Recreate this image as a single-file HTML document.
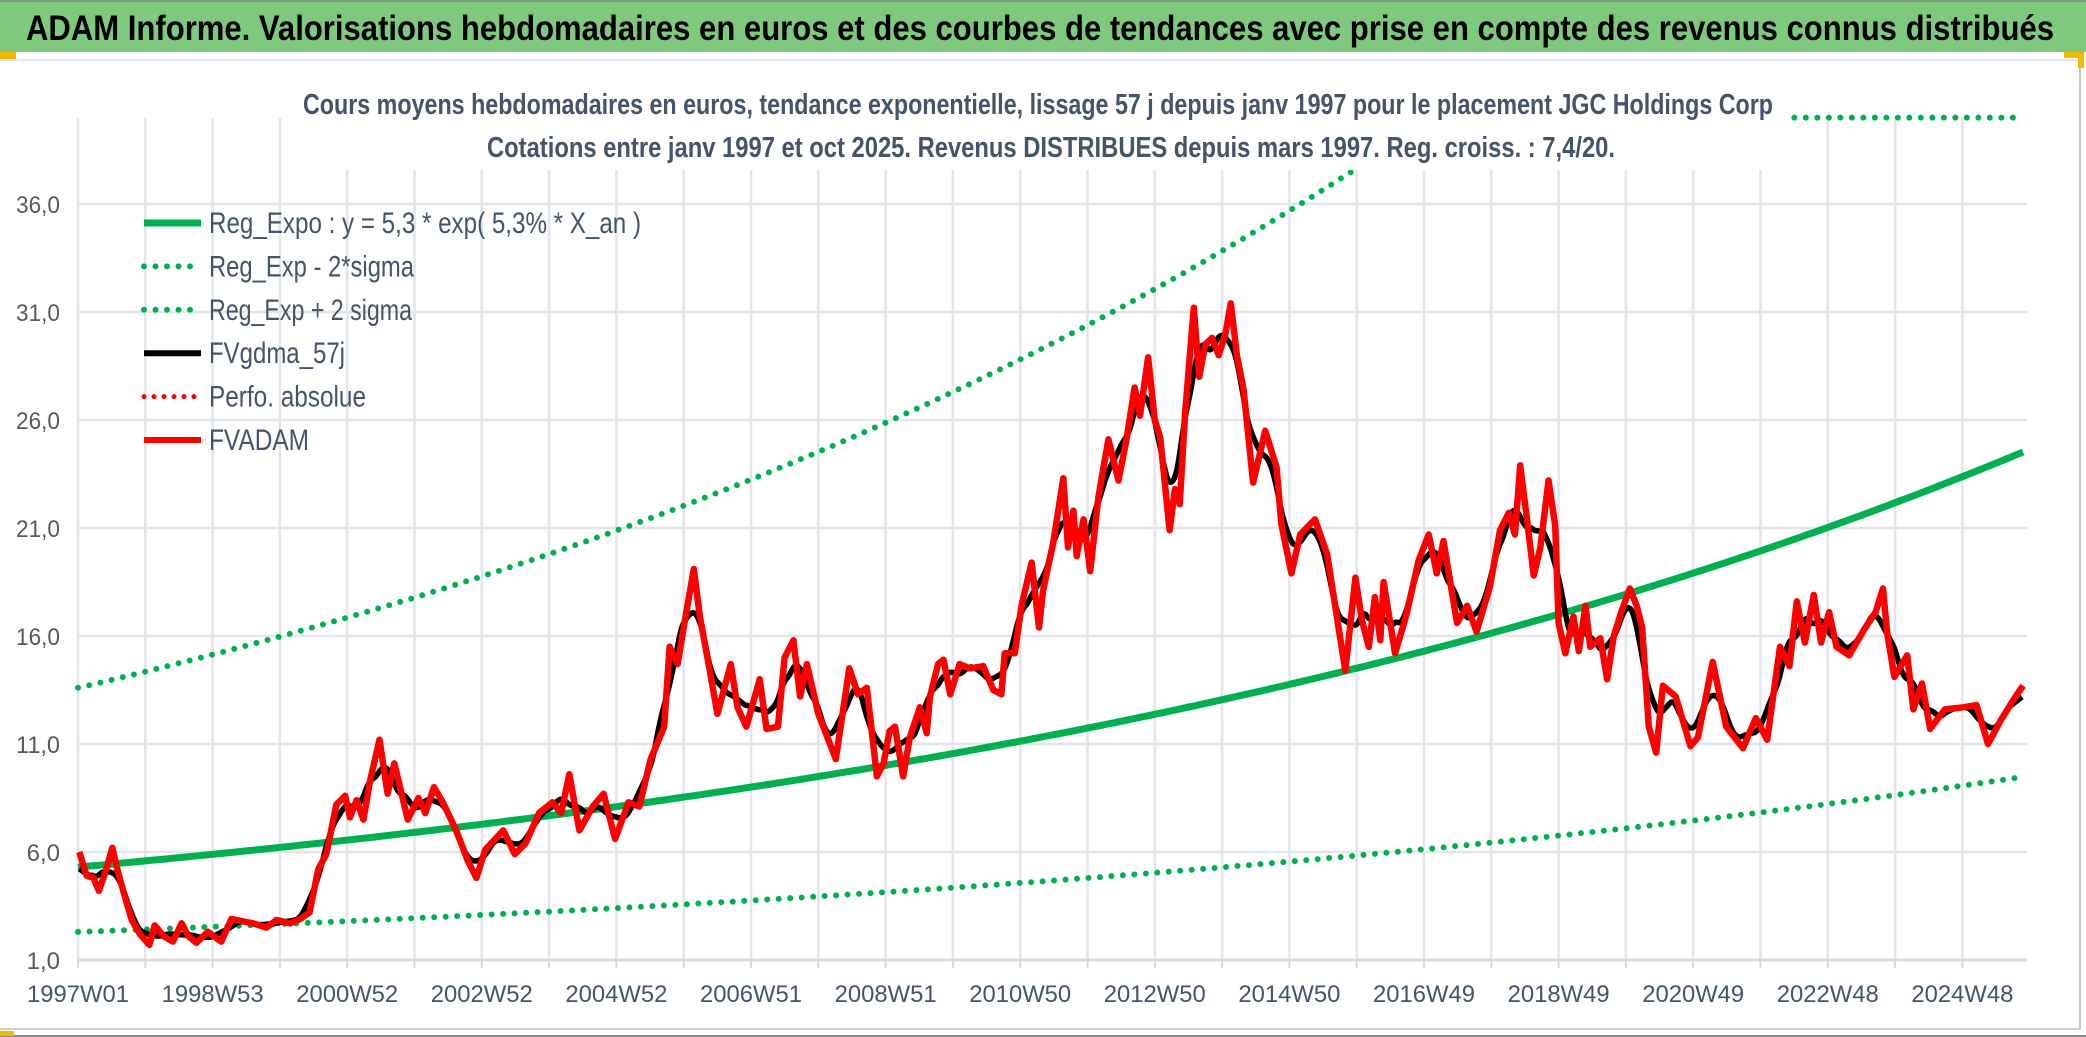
<!DOCTYPE html>
<html><head><meta charset="utf-8">
<style>
html,body{margin:0;padding:0;background:#fff;}
svg{display:block;font-family:"Liberation Sans",sans-serif;}
</style></head>
<body>
<svg id="chart" width="2086" height="1037" viewBox="0 0 2086 1037" xmlns="http://www.w3.org/2000/svg">
  <rect x="0" y="0" width="2086" height="1037" fill="#ffffff"/>
  <rect x="0" y="0" width="2086" height="52" fill="#7fc97f"/>
  <line x1="0" y1="1" x2="2086" y2="1" stroke="#7a9a7a" stroke-width="2"/>
  <text x="26" y="40" font-size="35" font-weight="bold" fill="#000" textLength="2028" lengthAdjust="spacingAndGlyphs">ADAM Informe. Valorisations hebdomadaires en euros et des courbes de tendances avec prise en compte des revenus connus distribués</text>
  <line x1="0" y1="60" x2="2080" y2="60" stroke="#e4e6ea" stroke-width="2"/>
  <line x1="2080" y1="60" x2="2080" y2="1030" stroke="#c8c8c8" stroke-width="2"/>
  <line x1="0" y1="1029" x2="2080" y2="1029" stroke="#d0d0d0" stroke-width="2"/>
  <line x1="0" y1="1036" x2="2086" y2="1036" stroke="#888" stroke-width="2"/>
  <rect x="0" y="52" width="16" height="7" fill="#f5b800"/>
  <rect x="2064" y="52" width="20" height="6" fill="#f5b800"/>
  <rect x="2078" y="52" width="6" height="16" fill="#f5b800"/>
  <rect x="0" y="1031" width="14" height="5" fill="#f5b800"/>
  <g id="grid"></g>
  <g id="axes"></g>
  <g id="series"></g>
  <rect x="348" y="62" width="1440" height="108" fill="#ffffff"/>
  <text x="1038" y="114" font-size="29" font-weight="bold" fill="#44546a" text-anchor="middle" textLength="1470" lengthAdjust="spacingAndGlyphs">Cours moyens hebdomadaires en euros, tendance exponentielle, lissage 57 j depuis janv 1997 pour le placement JGC Holdings Corp</text>
  <text x="1051" y="157" font-size="29" font-weight="bold" fill="#44546a" text-anchor="middle" textLength="1128" lengthAdjust="spacingAndGlyphs">Cotations entre janv 1997 et oct 2025. Revenus DISTRIBUES depuis mars 1997. Reg. croiss. : 7,4/20.</text>
  <g id="legend"></g>
</svg>
<script>
const NS = "http://www.w3.org/2000/svg";
// ---- data ----
const yTicks = [1, 6, 11, 16, 21, 26, 31, 36];
const yTickLabels = ["1,0", "6,0", "11,0", "16,0", "21,0", "26,0", "31,0", "36,0"];
const xTickYears = [0, 2, 4, 6, 8, 10, 12, 14, 16, 18, 20, 22, 24, 26, 28];
const xTickLabels = ["1997W01","1998W53","2000W52","2002W52","2004W52","2006W51","2008W51","2010W50","2012W50","2014W50","2016W49","2018W49","2020W49","2022W48","2024W48"];
const regCoef = [5.3, 0.053];
const lowerCoef = [2.3, 0.049];
const upperCoef = [13.6, 0.0536];
const priceYears = [1997.02,1997.13,1997.23,1997.31,1997.42,1997.51,1997.6,1997.7,1997.8,1997.92,1998.06,1998.14,1998.27,1998.41,1998.54,1998.64,1998.76,1998.93,1999.13,1999.28,1999.43,1999.6,1999.8,1999.95,2000.15,2000.3,2000.44,2000.57,2000.69,2000.84,2000.97,2001.04,2001.14,2001.24,2001.34,2001.48,2001.6,2001.7,2001.9,2002.06,2002.16,2002.29,2002.42,2002.62,2002.79,2002.92,2003.05,2003.32,2003.49,2003.65,2003.85,2004.05,2004.18,2004.3,2004.45,2004.65,2004.81,2004.98,2005.18,2005.34,2005.51,2005.71,2005.79,2005.91,2006.0,2006.15,2006.24,2006.37,2006.5,2006.7,2006.8,2006.93,2007.13,2007.23,2007.4,2007.5,2007.63,2007.73,2007.83,2008.0,2008.26,2008.46,2008.59,2008.72,2008.87,2008.97,2009.06,2009.14,2009.26,2009.36,2009.51,2009.61,2009.66,2009.78,2009.86,2009.96,2010.1,2010.25,2010.45,2010.6,2010.72,2010.77,2010.92,2011.02,2011.17,2011.28,2011.34,2011.49,2011.64,2011.71,2011.79,2011.84,2011.94,2012.04,2012.16,2012.31,2012.46,2012.58,2012.7,2012.78,2012.9,2013.0,2013.08,2013.22,2013.3,2013.37,2013.45,2013.58,2013.66,2013.75,2013.85,2013.95,2014.05,2014.13,2014.22,2014.32,2014.46,2014.64,2014.81,2014.88,2015.03,2015.16,2015.38,2015.56,2015.7,2015.83,2015.98,2016.08,2016.18,2016.27,2016.35,2016.4,2016.57,2016.74,2016.92,2017.07,2017.19,2017.29,2017.49,2017.64,2017.78,2017.98,2018.13,2018.26,2018.35,2018.43,2018.53,2018.63,2018.73,2018.85,2018.95,2019.0,2019.1,2019.22,2019.3,2019.4,2019.47,2019.62,2019.72,2019.82,2019.94,2020.06,2020.16,2020.24,2020.34,2020.45,2020.55,2020.74,2020.96,2021.07,2021.29,2021.49,2021.74,2021.93,2022.1,2022.29,2022.43,2022.54,2022.66,2022.79,2022.9,2023.02,2023.13,2023.32,2023.54,2023.71,2023.82,2023.88,2023.99,2024.18,2024.27,2024.4,2024.52,2024.74,2025.01,2025.21,2025.38,2025.57,2025.79,2025.9];
const priceValues = [6.0,4.9,4.8,4.2,5.2,6.2,5.0,3.9,2.85,2.2,1.7,2.6,2.1,1.85,2.7,2.1,1.8,2.3,1.85,2.9,2.8,2.7,2.5,2.85,2.7,2.9,3.2,5.2,5.9,8.2,8.6,7.6,8.4,7.5,9.3,11.2,8.7,10.1,7.5,8.5,7.8,9.0,8.3,7.0,5.6,4.8,6.1,7.0,5.9,6.4,7.8,8.3,7.8,9.6,7.0,8.1,8.7,6.6,8.3,8.1,10.3,11.8,15.5,14.7,16.4,19.1,16.9,14.7,12.4,14.7,12.7,11.8,14.0,11.7,11.8,15.0,15.8,13.2,14.7,12.4,10.3,14.5,13.3,13.6,9.5,10.1,11.6,11.8,9.5,11.3,12.7,11.5,13.2,14.7,14.9,13.3,14.7,14.5,14.6,13.5,13.3,15.2,15.2,17.4,19.4,16.4,18.1,20.3,23.3,20.1,21.8,19.7,21.4,19.0,22.4,25.1,23.2,25.1,27.5,26.2,28.9,26.0,25.2,20.9,22.8,22.1,26.3,31.2,28.0,29.5,29.8,29.0,30.0,31.4,29.0,27.4,23.1,25.5,23.8,21.2,18.9,20.7,21.4,19.8,17.0,14.4,18.7,16.7,15.5,17.8,15.8,18.5,15.2,17.0,19.5,20.7,18.9,20.4,16.6,17.4,16.2,18.3,20.9,21.7,20.7,23.9,21.4,18.8,20.1,23.2,21.1,16.6,15.2,16.9,15.3,17.4,15.5,15.9,14.0,16.0,17.2,18.2,17.4,16.4,11.8,10.6,13.7,13.2,10.9,11.3,14.8,11.8,10.8,12.2,11.2,15.5,14.6,17.6,15.7,17.9,15.7,17.1,15.5,15.1,16.3,17.1,18.2,16.2,14.1,15.1,12.6,13.8,11.7,12.6,12.7,12.8,11.0,12.1,13.2,13.7,13.8];
const smoothWeeks = 10;

// ---- scales ----
const X0 = 78, PXY = 67.3, Y1px = 960, PXV = 21.6, YMAX = 40, XEND = 2027;
const xs = t => X0 + t * PXY;
const ys = v => Y1px - (v - 1) * PXV;
const yearToT = y => y - 1997;
const tMax = (XEND - X0) / PXY;

function mk(tag, attrs, parent){const e=document.createElementNS(NS,tag);for(const k in attrs)e.setAttribute(k,attrs[k]);parent.appendChild(e);return e;}
const grid=document.getElementById('grid'), axes=document.getElementById('axes'), ser=document.getElementById('series'), leg=document.getElementById('legend');

yTicks.forEach((v,i)=>{
  const l=mk('line',{x1:X0,x2:XEND,y1:ys(v),y2:ys(v),stroke:'#e2e5ea','stroke-width':2.5},grid);
  
  
  const ta={x:60,y:ys(v)+9,'font-size':24,fill:'#595959','text-anchor':'end'};
  if(yTickLabels[i].length>3){ta.textLength=44;ta.lengthAdjust='spacingAndGlyphs';}
  const t=mk('text',ta,axes);
  t.textContent=yTickLabels[i];
  
  
});
for(let k=0;k<=Math.floor(tMax);k++){
  const x=xs(k);
  const top = (x>345 && x<1790) ? 170 : 118;
  const l=mk('line',{x1:x,x2:x,y1:top,y2:Y1px,stroke:'#e2e5ea','stroke-width':2.5},grid);
  
  
  const tk=mk('line',{x1:x,x2:x,y1:Y1px,y2:Y1px+8,stroke:'#d9d9d9','stroke-width':2},axes);
  
  
}
const ax=mk('line',{x1:X0,x2:XEND,y1:Y1px,y2:Y1px,stroke:'#d9d9d9','stroke-width':2.5},axes);


xTickYears.forEach((t,i)=>{
  const e=mk('text',{x:xs(t),y:1002,'font-size':24,fill:'#44546a','text-anchor':'middle',textLength:102,lengthAdjust:'spacingAndGlyphs'},axes);
  e.textContent=xTickLabels[i];
  
  
});

function pathFrom(pts){return pts.map((p,i)=>(i?'L':'M')+p[0].toFixed(1)+' '+p[1].toFixed(1)).join(' ');}
function expPts(c){const pts=[];for(let t=0;t<=tMax+1e-9;t+=0.1){const v=Math.min(c[0]*Math.exp(c[1]*t),YMAX);pts.push([xs(t),ys(v)]);}return pts;}

const up=mk('path',{d:pathFrom(expPts(upperCoef)),fill:'none',stroke:'#00b050','stroke-width':6,'stroke-linecap':'round','stroke-dasharray':'0 11.5'},ser);


const lo=mk('path',{d:pathFrom(expPts(lowerCoef)),fill:'none',stroke:'#00b050','stroke-width':6,'stroke-linecap':'round','stroke-dasharray':'0 11.5'},ser);


const rg=mk('path',{d:pathFrom(expPts(regCoef)),fill:'none',stroke:'#00b050','stroke-width':7},ser);



const weekly=[];
for(let y=priceYears[0]; y<=priceYears[priceYears.length-1]; y+=1/52){
  let j=0; while(j<priceYears.length-2 && priceYears[j+1]<y) j++;
  const f=(y-priceYears[j])/(priceYears[j+1]-priceYears[j]);
  weekly.push([y, priceValues[j]+(priceValues[j+1]-priceValues[j])*Math.max(0,Math.min(1,f))]);
}
const sm=weekly.map((p,i)=>{let s=0,n=0;for(let k=i-smoothWeeks;k<=i+smoothWeeks;k++){if(k>=0&&k<weekly.length){s+=weekly[k][1];n++;}}return [xs(yearToT(p[0])),ys(s/n)];});
const ma=mk('path',{d:pathFrom(sm),fill:'none',stroke:'#000','stroke-width':5.5,'stroke-linejoin':'round'},ser);


const pr=mk('path',{d:pathFrom(priceYears.map((y,i)=>[xs(yearToT(y)),ys(priceValues[i])])),fill:'none',stroke:'#ff0000','stroke-width':6.5,'stroke-linejoin':'round'},ser);



const legItems=[
 ["Reg_Expo : y = 5,3 * exp( 5,3% *  X_an )",'#00b050',7,null,432,'legend-reg-expo'],
 ["Reg_Exp - 2*sigma",'#00b050',6,'0 11.5',205,'legend-reg-minus'],
 ["Reg_Exp + 2 sigma",'#00b050',6,'0 11.5',203,'legend-reg-plus'],
 ["FVgdma_57j",'#000',6,null,136,'legend-fvgdma'],
 ["Perfo. absolue",'#ff0000',5,'0 10',157,'legend-perfo'],
 ["FVADAM",'#ff0000',6,null,100,'legend-fvadam']];
legItems.forEach((it,i)=>{
  const y=223+i*43.4;
  const attrs={x1:144,x2:201,y1:y,y2:y,stroke:it[1],'stroke-width':it[2]};
  if(it[3]){attrs['stroke-dasharray']=it[3];attrs['stroke-linecap']='round';}
  const l=mk('line',attrs,leg);
  
  
  const t=mk('text',{x:209,y:y+10,'font-size':30,fill:'#44546a',textLength:it[4],lengthAdjust:'spacingAndGlyphs'},leg);
  t.textContent=it[0];
  
  
});
</script>
</body></html>
